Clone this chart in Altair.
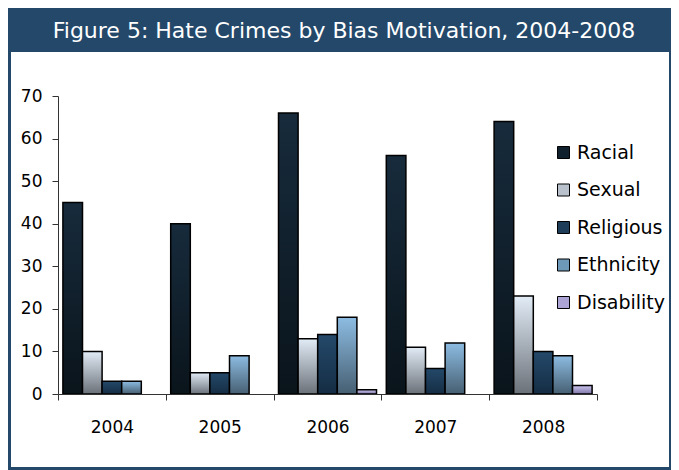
import altair as alt
import pandas as pd

# ---- data ----
years = ["2004", "2005", "2006", "2007", "2008"]
series = ["Racial", "Sexual", "Religious", "Ethnicity", "Disability"]
racial = [45, 40, 66, 56, 64]
sexual = [10, 5, 13, 11, 23]
religious = [3, 5, 14, 6, 10]
ethnicity = [3, 9, 18, 12, 9]
disability = [0, 0, 1, 0, 2]

values = {
    "Racial": racial,
    "Sexual": sexual,
    "Religious": religious,
    "Ethnicity": ethnicity,
    "Disability": disability,
}

rows = []
for s in series:
    for y, v in zip(years, values[s]):
        rows.append({"Year": y, "Bias": s, "Count": v})
df = pd.DataFrame(rows)

# ---- styles ----
grad_stops = {
    "Racial": ("#172B3C", "#0A141B"),
    "Sexual": ("#E2ECF6", "#6B7179"),
    "Religious": ("#24496A", "#152D44"),
    "Ethnicity": ("#8DBCE2", "#465F72"),
    "Disability": ("#CCC6F0", "#7E76A6"),
}
legend_colors = ["#11202D", "#B9C2CC", "#1E3D59", "#6E98B8", "#ABA4D4"]
frame_color = "#23486A"


def gradient(top, bottom):
    return {
        "gradient": "linear",
        "x1": 0, "y1": 0, "x2": 0, "y2": 1,
        "stops": [{"offset": 0, "color": top}, {"offset": 1, "color": bottom}],
    }


fill_def = {
    "condition": [
        {"test": f"datum.Bias === '{s}'", "value": gradient(*grad_stops[s])}
        for s in series[:-1]
    ],
    "value": gradient(*grad_stops[series[-1]]),
}

x_enc = alt.X(
    "Year:N",
    sort=years,
    scale=alt.Scale(paddingInner=0, paddingOuter=0),
    axis=alt.Axis(
        title=None,
        labelAngle=0,
        tickBand="extent",
        labelFont="DejaVu Sans",
        labelFontSize=17,
        labelColor="black",
        labelPadding=19,
        tickSize=6,
        tickColor="#333333",
        domainColor="#333333",
        zindex=1,
    ),
)
y_enc = alt.Y(
    "Count:Q",
    scale=alt.Scale(domain=[0, 70], nice=False),
    axis=alt.Axis(
        title=None,
        values=[0, 10, 20, 30, 40, 50, 60, 70],
        grid=False,
        labelFont="DejaVu Sans",
        labelFontSize=17,
        labelColor="black",
        labelPadding=10,
        tickSize=6,
        tickColor="#333333",
        domainColor="#333333",
        zindex=1,
    ),
)
xoff_enc = alt.XOffset(
    "Bias:N", sort=series, scale=alt.Scale(domain=series, paddingOuter=0.25, paddingInner=0)
)

base = alt.Chart(df).transform_filter("datum.Count > 0")

# hidden layer that only provides the legend (covered by the white panel)
legend_layer = base.mark_bar().encode(
    x=x_enc,
    y=y_enc,
    xOffset=xoff_enc,
    color=alt.Color(
        "Bias:N",
        sort=series,
        scale=alt.Scale(domain=series, range=legend_colors),
        legend=alt.Legend(
            title=None,
            orient="none",
            legendX=496,
            legendY=47,
            padding=0,
            labelFont="DejaVu Sans",
            labelFontSize=19,
            labelColor="black",
            labelOffset=4,
            symbolType="square",
            symbolSize=144,
            symbolStrokeColor="black",
            symbolStrokeWidth=1,
            rowPadding=17.5,
        ),
    ),
)

panel = alt.Chart(pd.DataFrame({"k": [0]})).mark_rect(color="white").encode(
    x=alt.value(-47), x2=alt.value(611), y=alt.value(-44), y2=alt.value(371)
)

bars = base.mark_bar(stroke="black", strokeWidth=1.5).encode(
    x=x_enc,
    y=y_enc,
    xOffset=xoff_enc,
    fill=fill_def,
)

chart = (
    alt.layer(legend_layer, panel, bars)
    .properties(
        width=539,
        height=298,
        autosize=alt.AutoSizeParams(type="none"),
        padding={"left": 50, "top": 88, "right": 74, "bottom": 76},
        background=frame_color,
        title=alt.TitleParams(
            text="Figure 5: Hate Crimes by Bias Motivation, 2004-2008",
            color="white",
            font="DejaVu Sans",
            fontSize=22,
            fontWeight="normal",
            anchor="middle",
            frame="group",
            baseline="alphabetic",
            offset=13,
            dx=16.5,
            dy=21,
        ),
    )
    .configure_view(stroke=None)
)

chart.save("out.html", embed_options={"renderer": "svg", "actions": False})
